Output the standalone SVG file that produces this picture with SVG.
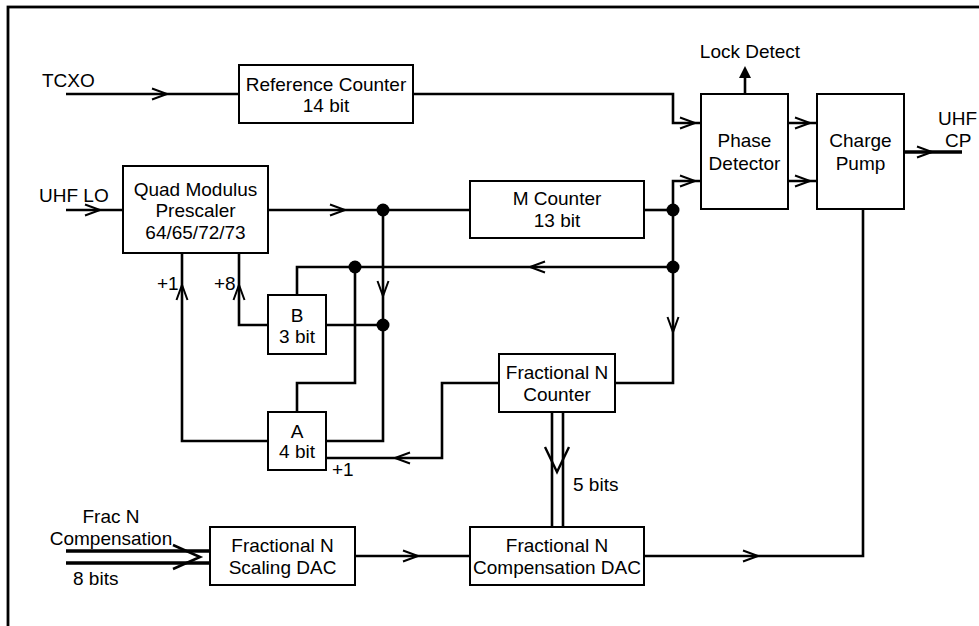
<svg xmlns="http://www.w3.org/2000/svg" xmlns:xlink="http://www.w3.org/1999/xlink" width="979" height="626" viewBox="0 0 979 626">
<style>
text{font-family:"Liberation Sans",Arial,sans-serif;font-size:19px;fill:#000}
.m{text-anchor:middle}
.box{fill:#fff;stroke:#000;stroke-width:2}
.w{fill:none;stroke:#000;stroke-width:2.6}
.thick{fill:none;stroke:#000;stroke-width:3.6}
.dot{fill:#000}
</style>
<defs>
<path id="chev" d="M-15,-5.5 L0,0 L-15,5.5" fill="none" stroke="#000" stroke-width="2"/>
</defs>
<rect x="8" y="7" width="1000" height="700" fill="#fff" stroke="#000" stroke-width="2.8"/>
<g id="connectors">
<path class="w" d="M66,94 H239"/>
<path class="w" d="M413,94 H673 V123 H701"/>
<path class="w" d="M644,210 H673"/>
<path class="w" d="M701,181 H673 V383 H615"/>
<path class="w" d="M66,210 H123"/>
<path class="w" d="M268,210 H470"/>
<path class="w" d="M383,210 V441 H326"/>
<path class="w" d="M673,267 H297 V295"/>
<path class="w" d="M355,267 V383 H297 V412"/>
<path class="w" d="M326,325 H383"/>
<path class="w" d="M268,325 H239 V253"/>
<path class="w" d="M268,441 H182 V253"/>
<path class="w" d="M326,458 H442 V383 H499"/>
<path class="w" d="M552,412 V527 M563,412 V527"/>
<path class="w" d="M355,556 H470"/>
<path class="w" d="M644,556 H863 V209"/>
<path class="w" d="M788,123 H817 M788,181 H817"/>
<path class="thick" d="M904,152 H962"/>
<path class="w" d="M745,94 V77"/>
<polygon points="745,66 739,78 751,78" fill="#000"/>
<path class="thick" d="M66,551 H210 M66,563 H210"/>
<use xlink:href="#chev" transform="translate(167,94)"/>
<use xlink:href="#chev" transform="translate(695,123)"/>
<use xlink:href="#chev" transform="translate(695,181)"/>
<use xlink:href="#chev" transform="translate(810,123)"/>
<use xlink:href="#chev" transform="translate(810,181)"/>
<use xlink:href="#chev" transform="translate(932,152)"/>
<use xlink:href="#chev" transform="translate(100,210)"/>
<use xlink:href="#chev" transform="translate(345,210)"/>
<use xlink:href="#chev" transform="translate(530,267) rotate(180)"/>
<use xlink:href="#chev" transform="translate(383,296) rotate(90)"/>
<use xlink:href="#chev" transform="translate(673,332) rotate(90)"/>
<use xlink:href="#chev" transform="translate(182,285) rotate(-90)"/>
<use xlink:href="#chev" transform="translate(239,285) rotate(-90)"/>
<use xlink:href="#chev" transform="translate(395,458) rotate(180)"/>
<use xlink:href="#chev" transform="translate(418,556)"/>
<use xlink:href="#chev" transform="translate(758,556)"/>
<path d="M545,447 L557,472 L569,447" fill="none" stroke="#000" stroke-width="2.4"/>
<path d="M173,545 L200,557 L173,569" fill="none" stroke="#000" stroke-width="2.6"/>
<circle class="dot" cx="383" cy="210" r="6.5"/>
<circle class="dot" cx="673" cy="210" r="6.5"/>
<circle class="dot" cx="673" cy="267" r="6.5"/>
<circle class="dot" cx="355" cy="267" r="6.5"/>
<circle class="dot" cx="383" cy="325" r="6.5"/>
</g>
<g id="labels">
<text x="42" y="87">TCXO</text>
<text x="39" y="202">UHF LO</text>
<text x="750" y="58" class="m">Lock Detect</text>
<text x="938" y="125">UHF</text>
<text x="945" y="147">CP</text>
<text x="157" y="290">+1</text>
<text x="214" y="290">+8</text>
<text x="332" y="476">+1</text>
<text x="573" y="491">5 bits</text>
<text x="111" y="523" class="m">Frac N</text>
<text x="111" y="545" class="m">Compensation</text>
<text x="73" y="585">8 bits</text>
</g>
<g id="ref-counter">
<rect class="box" x="239" y="65" width="174" height="58"/>
<text x="326" y="91" class="m">Reference Counter</text>
<text x="326" y="112" class="m">14 bit</text>
</g>
<g id="phase-detector">
<rect class="box" x="701" y="94" width="87" height="115"/>
<text x="744.5" y="147" class="m">Phase</text>
<text x="744.5" y="170" class="m">Detector</text>
</g>
<g id="charge-pump">
<rect class="box" x="817" y="94" width="87" height="115"/>
<text x="860.5" y="147" class="m">Charge</text>
<text x="860.5" y="170" class="m">Pump</text>
</g>
<g id="prescaler">
<rect class="box" x="123" y="166" width="145" height="87"/>
<text x="195.5" y="196" class="m">Quad Modulus</text>
<text x="195.5" y="217" class="m">Prescaler</text>
<text x="195.5" y="239" class="m">64/65/72/73</text>
</g>
<g id="m-counter">
<rect class="box" x="470" y="181" width="174" height="57"/>
<text x="557" y="205" class="m">M Counter</text>
<text x="557" y="227" class="m">13 bit</text>
</g>
<g id="b-counter">
<rect class="box" x="268" y="295" width="58" height="59"/>
<text x="297" y="322" class="m">B</text>
<text x="297" y="343" class="m">3 bit</text>
</g>
<g id="a-counter">
<rect class="box" x="268" y="412" width="58" height="58"/>
<text x="297" y="438" class="m">A</text>
<text x="297" y="458" class="m">4 bit</text>
</g>
<g id="frac-counter">
<rect class="box" x="499" y="354" width="116" height="58"/>
<text x="557" y="379" class="m">Fractional N</text>
<text x="557" y="401" class="m">Counter</text>
</g>
<g id="scaling-dac">
<rect class="box" x="210" y="527" width="145" height="58"/>
<text x="282.5" y="552" class="m">Fractional N</text>
<text x="282.5" y="574" class="m">Scaling DAC</text>
</g>
<g id="comp-dac">
<rect class="box" x="470" y="527" width="174" height="58"/>
<text x="557" y="552" class="m">Fractional N</text>
<text x="557" y="574" class="m">Compensation DAC</text>
</g>
</svg>
